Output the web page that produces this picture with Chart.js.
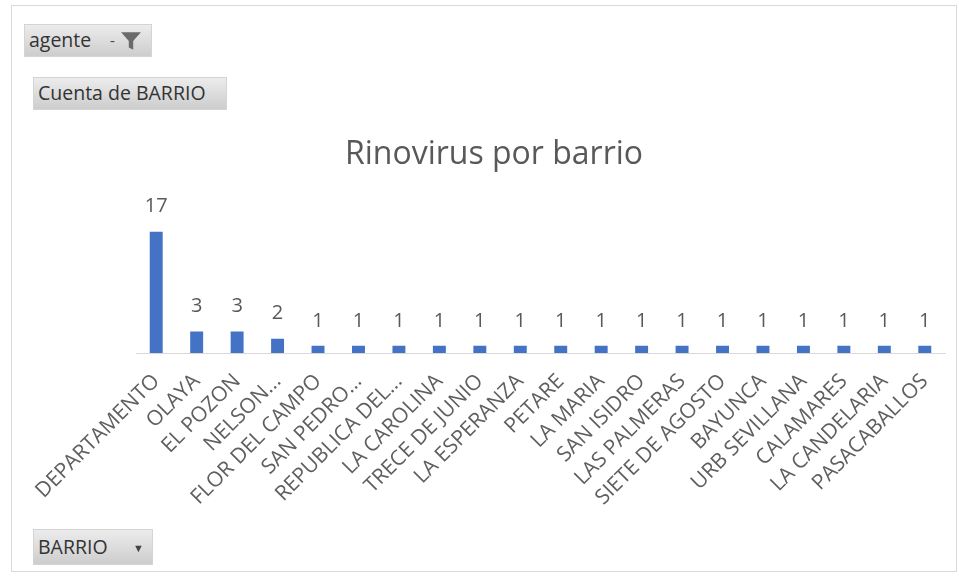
<!DOCTYPE html>
<html>
<head>
<meta charset="utf-8">
<script src="https://cdn.jsdelivr.net/npm/chart.js@4.4.1/dist/chart.umd.min.js"></script>
<style>
  html, body { margin: 0; padding: 0; background: #ffffff; }
  body { width: 959px; height: 577px; position: relative; overflow: hidden; font-family: "Open Sans", sans-serif; }
  #frame { position: absolute; left: 11px; top: 5px; width: 946px; height: 567px; border: 1px solid #d9d9d9; box-sizing: border-box; }
  #wrap { position: absolute; left: 0; top: 0; width: 959px; height: 577px; }
  .btn { position: absolute; background: linear-gradient(#ececec, #cdcdcd); border: 1px solid #d4d4d4; box-sizing: border-box; color: #333; font-size: 19.5px; line-height: 30px; padding-left: 4px; white-space: nowrap; }
  .btn .arr { font-size: 11px; color: #444; position: absolute; }
</style>
</head>
<body>
<div id="frame"></div>
<div id="wrap"><canvas id="c" width="959" height="577"></canvas></div>
<div class="btn" style="left:24px;top:24px;width:128px;height:33px;">agente <span class="arr" style="left:85px;top:0px;font-size:15px;">-</span><svg width="24" height="22" viewBox="0 0 20 20" style="position:absolute;left:94px;top:5px"><path d="M1 2 H19 L12 10 V18 L8 16 V10 Z" fill="#6a6a6a"/></svg></div>
<div class="btn" style="left:33px;top:77px;width:194px;height:33px;">Cuenta de BARRIO</div>
<div class="btn" style="left:33px;top:529px;width:120px;height:36px;line-height:34px;">BARRIO <span class="arr" style="top:1px;left:99px;">▼</span></div>
<script>
const categories = ["DEPARTAMENTO","OLAYA","EL POZON","NELSON...","FLOR DEL CAMPO","SAN PEDRO...","REPUBLICA DEL...","LA CAROLINA","TRECE DE JUNIO","LA ESPERANZA","PETARE","LA MARIA","SAN ISIDRO","LAS PALMERAS","SIETE DE AGOSTO","BAYUNCA","URB SEVILLANA","CALAMARES","LA CANDELARIA","PASACABALLOS"];
const counts = [17,3,3,2,1,1,1,1,1,1,1,1,1,1,1,1,1,1,1,1];
const chartTitle = "Rinovirus por barrio";
const seriesName = "Total";

const valueLabels = {
  id: 'valueLabels',
  afterDatasetsDraw(chart) {
    const ctx = chart.ctx;
    const meta = chart.getDatasetMeta(0);
    ctx.save();
    ctx.font = '20px "Open Sans"';
    ctx.fillStyle = '#595959';
    ctx.textAlign = 'center';
    ctx.textBaseline = 'middle';
    meta.data.forEach((bar, i) => {
      ctx.fillText(String(chart.data.datasets[0].data[i]), bar.x, bar.y - 25);
    });
    ctx.restore();
  }
};

new Chart(document.getElementById('c'), {
  type: 'bar',
  data: {
    labels: categories,
    datasets: [{
      label: seriesName,
      data: counts,
      backgroundColor: '#4472C4',
      borderWidth: 0,
      barPercentage: 0.8,
      categoryPercentage: 0.4
    }]
  },
  options: {
    responsive: false,
    animation: false,
    events: [],
    layout: { padding: { left: 43, right: 14, top: 0, bottom: 0 } },
    plugins: {
      legend: { display: false },
      tooltip: { enabled: false },
      title: {
        display: true,
        text: chartTitle,
        color: '#595959',
        font: { family: 'Open Sans', size: 32, weight: 'normal', lineHeight: 1.2 },
        padding: { top: 136, bottom: 36 }
      }
    },
    scales: {
      x: {
        grid: { display: false, drawTicks: false },
        border: { display: true, color: '#d9d9d9', width: 1 },
        ticks: {
          autoSkip: false,
          minRotation: 45,
          maxRotation: 45,
          padding: 16,
          color: '#5f5f5f',
          font: { family: 'Open Sans', size: 21 }
        },
        afterFit(scale) { scale.height = 224; }
      },
      y: {
        min: 0,
        max: 20,
        grid: { display: false, drawTicks: false },
        border: { display: false },
        ticks: { display: false },
        afterFit(scale) { scale.width = 93; }
      }
    }
  },
  plugins: [valueLabels]
});
</script>
</body>
</html>
